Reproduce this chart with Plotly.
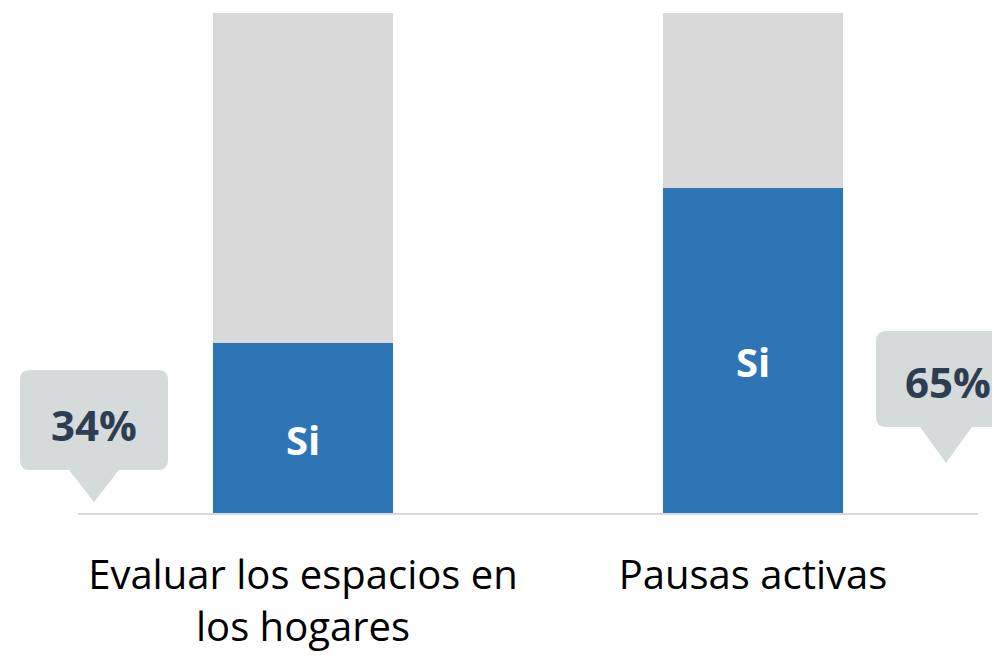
import plotly.graph_objects as go

categories = ["Evaluar los espacios en<br>los hogares", "Pausas activas"]
si_values = [34, 65]
no_values = [100 - v for v in si_values]
si_label = "Si"

BLUE = "#2e75b6"
GRAY = "#d9d9d9"
CALLOUT = "#d5dadb"
DARK = "#2c3e50"
FONT = "Open Sans"

# page offset from default body margin
OFF = 8

fig = go.Figure()
fig.add_trace(go.Bar(x=[0, 1], y=si_values, marker=dict(color=BLUE, line=dict(width=0)),
                     width=0.4, hoverinfo="skip", showlegend=False))
fig.add_trace(go.Bar(x=[0, 1], y=no_values, marker=dict(color=GRAY, line=dict(width=0)),
                     width=0.4, hoverinfo="skip", showlegend=False))

# "Si" labels inside blue segments
for i, v in enumerate(si_values):
    fig.add_annotation(x=i, y=v / 2, xref="x", yref="y", text="<b>%s</b>" % si_label,
                       showarrow=False, yshift=-11, xanchor="center", yanchor="middle",
                       font=dict(family=FONT, size=40, color="white"))

# callouts (screen pixel -> paper helpers)
L, T, W, H = 78, 13, 900, 500
def px(xp):
    return (xp - L) / W
def py(yp):
    return (T + H - yp) / H

def callout(x0, x1, y0, y1, tx0, tx1, tip_x, tip_y, r=10):
    X = px; Y = py
    rx = r / W; ry = r / H
    p = []
    p.append("M %f,%f" % (X(x0) + rx, Y(y0)))
    p.append("L %f,%f" % (X(x1) - rx, Y(y0)))
    p.append("Q %f,%f %f,%f" % (X(x1), Y(y0), X(x1), Y(y0) - ry))
    p.append("L %f,%f" % (X(x1), Y(y1) + ry))
    p.append("Q %f,%f %f,%f" % (X(x1), Y(y1), X(x1) - rx, Y(y1)))
    p.append("L %f,%f" % (X(tx1), Y(y1)))
    p.append("L %f,%f" % (X(tip_x), Y(tip_y)))
    p.append("L %f,%f" % (X(tx0), Y(y1)))
    p.append("L %f,%f" % (X(x0) + rx, Y(y1)))
    p.append("Q %f,%f %f,%f" % (X(x0), Y(y1), X(x0), Y(y1) + ry))
    p.append("L %f,%f" % (X(x0), Y(y0) - ry))
    p.append("Q %f,%f %f,%f" % (X(x0), Y(y0), X(x0) + rx, Y(y0)))
    p.append("Z")
    return dict(type="path", xref="paper", yref="paper", path=" ".join(p),
                fillcolor=CALLOUT, line=dict(width=0), layer="above")

fig.add_shape(callout(20, 168, 370, 470, 69, 119, 94, 502))
fig.add_shape(callout(876, 1015, 331, 427, 920, 972, 946, 463))

fig.add_annotation(x=px(94), y=py(424), xref="paper", yref="paper",
                   xanchor="center", yanchor="middle",
                   text="<b>%d%%</b>" % si_values[0], showarrow=False,
                   font=dict(family=FONT, size=42, color=DARK))
fig.add_annotation(x=px(948), y=py(381), xref="paper", yref="paper",
                   xanchor="center", yanchor="middle",
                   text="<b>%d%%</b>" % si_values[1], showarrow=False,
                   font=dict(family=FONT, size=42, color=DARK))

fig.update_layout(
    barmode="stack",
    width=1000 - OFF, height=657 - OFF,
    margin=dict(l=78 - OFF, r=22, t=13 - OFF, b=144),
    paper_bgcolor="white", plot_bgcolor="white",
    font=dict(family=FONT),
    xaxis=dict(range=[-0.5, 1.5], tickmode="array", tickvals=[0, 1], ticktext=categories,
               showgrid=False, zeroline=False, showline=True, linecolor=GRAY, linewidth=2,
               ticks="", ticklabelstandoff=26,
               tickfont=dict(family=FONT, size=40, color="#000000"), fixedrange=True),
    yaxis=dict(range=[0, 100], visible=False, fixedrange=True),
)

fig.write_html("out.html")
